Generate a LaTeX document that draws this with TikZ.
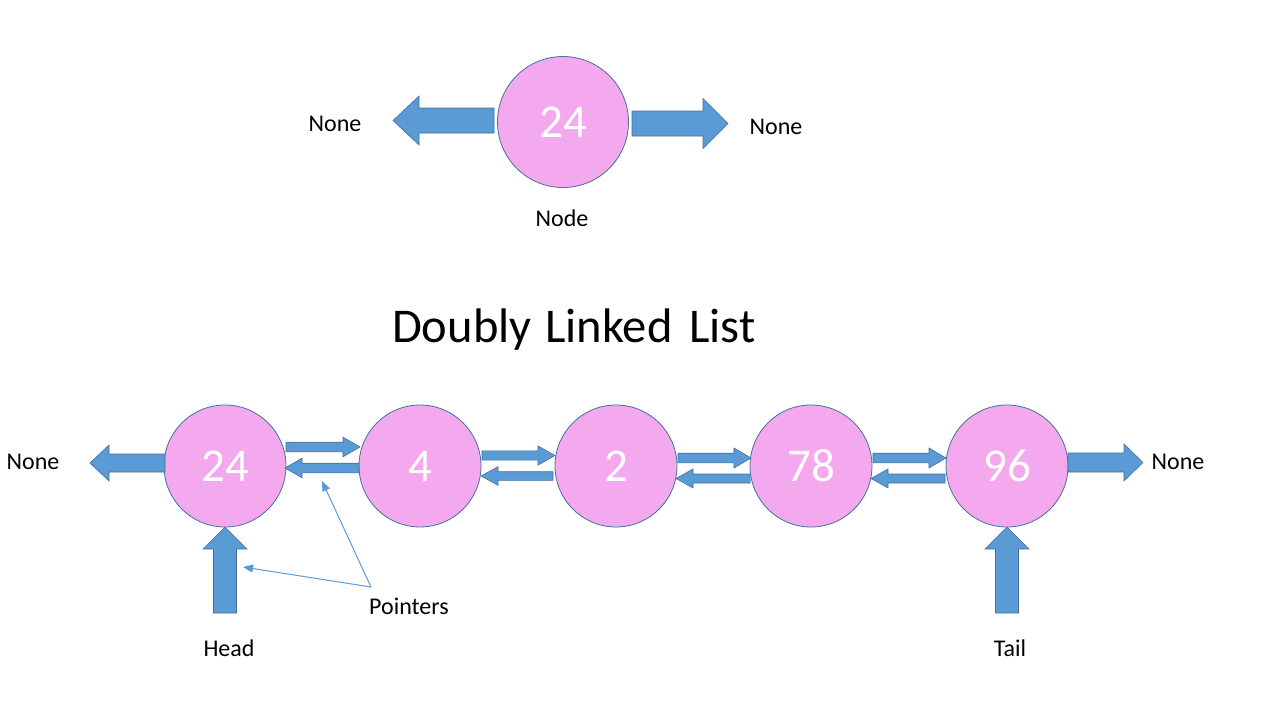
\documentclass[tikz,border=0pt]{standalone}
\usepackage{fontspec}
\setmainfont{Carlito}
\usetikzlibrary{calc,arrows.meta}
\definecolor{nodepink}{RGB}{244,168,238}
\definecolor{arrowfill}{RGB}{91,155,213}
\definecolor{arrowline}{RGB}{65,113,156}
\tikzset{
  circ/.style={circle, minimum size=122pt, inner sep=0pt, fill=nodepink, draw=arrowline, line width=0.8pt, text=white, font=\fontsize{47}{50}\selectfont},
  bigcirc/.style={circ, minimum size=131pt},
  lbl/.style={font=\fontsize{24}{28}\selectfont, text=black, inner sep=0pt},
  barrow/.style={fill=arrowfill, draw=arrowline, line width=0.6pt, line join=miter},
  thinptr/.style={draw=arrowfill, line width=1pt, -{Triangle[length=10pt,width=8pt]}},
}
% #1 from, #2 to, #3 shaft half width, #4 head half width, #5 head length
\newcommand\blockarrow[5]{%
  \coordinate (bahead) at ($(#2)!#5!(#1)$);
  \filldraw[barrow] ($(#1)!#3!90:(#2)$) -- ($(bahead)!#3!90:(#2)$) -- ($(bahead)!#4!90:(#2)$) -- (#2) -- ($(bahead)!#4!-90:(#2)$) -- ($(bahead)!#3!-90:(#2)$) -- ($(#1)!#3!-90:(#2)$) -- cycle;}
\begin{document}
\begin{tikzpicture}[x=1pt,y=-1pt]
\useasboundingbox[fill=white] (0,0) rectangle (1280,720);

% ---- single node ----
\node[bigcirc] (n0) at (563,122) {24};
\node[lbl] (nonel) at (335,124) {None};
\node[lbl] (noner) at (776,127) {None};
\node[lbl] (nodel) at (562,218) {Node};
\coordinate (t0ls) at (494,120.5);
\coordinate (t0le) at (393,120.5);
\coordinate (t0rs) at (632,123.5);
\coordinate (t0re) at (728,123.5);
\blockarrow{t0ls}{t0le}{12.5pt}{24.5pt}{26pt}
\blockarrow{t0rs}{t0re}{12.5pt}{25pt}{25pt}

% ---- title ----
\node[font=\fontsize{48.5}{52}\selectfont, inner sep=0pt, anchor=base] (title) at (574,342) {Doubly\hspace{3pt} Linked\hspace{6pt} List};

% ---- list nodes ----
\node[circ] (c1) at (225,466) {24};
\node[circ] (c2) at (420,466) {4};
\node[circ] (c3) at (616,466) {2};
\node[circ] (c4) at (811,466) {78};
\node[circ] (c5) at (1007,466) {96};

% None ends
\node[lbl] (nleft) at (33,462) {None};
\node[lbl] (nright) at (1178,462) {None};
\coordinate (lns) at (165,463);
\coordinate (lne) at (90,463);
\coordinate (rns) at (1068,462.5);
\coordinate (rne) at (1143,462.5);
\blockarrow{lns}{lne}{9pt}{18pt}{19pt}
\blockarrow{rns}{rne}{9.5pt}{18.5pt}{19pt}

% links 1-2
\coordinate (a12s) at (286,447); \coordinate (a12e) at (360,447);
\coordinate (b12s) at (359,468); \coordinate (b12e) at (285,468);
\blockarrow{a12s}{a12e}{4.8pt}{9.8pt}{17pt}
\blockarrow{b12s}{b12e}{4.8pt}{9.8pt}{17pt}
% links 2-3
\coordinate (a23s) at (482,455.5); \coordinate (a23e) at (555,455.5);
\coordinate (b23s) at (553,476); \coordinate (b23e) at (481,476);
\blockarrow{a23s}{a23e}{4.6pt}{9.6pt}{17pt}
\blockarrow{b23s}{b23e}{4.3pt}{9.3pt}{17pt}
% links 3-4
\coordinate (a34s) at (678,458); \coordinate (a34e) at (751,458);
\coordinate (b34s) at (750,478.5); \coordinate (b34e) at (676,478.5);
\blockarrow{a34s}{a34e}{4.8pt}{10pt}{17pt}
\blockarrow{b34s}{b34e}{4.5pt}{9.5pt}{17pt}
% links 4-5
\coordinate (a45s) at (873,458); \coordinate (a45e) at (946,458);
\coordinate (b45s) at (945,478.5); \coordinate (b45e) at (871,478.5);
\blockarrow{a45s}{a45e}{4.8pt}{10pt}{17pt}
\blockarrow{b45s}{b45e}{4.5pt}{9.5pt}{17pt}

% head / tail
\node[lbl] (head) at (229,648) {Head};
\node[lbl] (tail) at (1010,648) {Tail};
\coordinate (hs) at (225,613); \coordinate (he) at (225,527);
\coordinate (ts) at (1007,613); \coordinate (te) at (1007,527);
\blockarrow{hs}{he}{11.5pt}{22pt}{22pt}
\blockarrow{ts}{te}{11.5pt}{22pt}{22pt}

% pointers annotation
\node[lbl] (ptr) at (409,606) {Pointers};
\coordinate (pj) at (371,587);
\coordinate (pa) at (322,481);
\coordinate (pb) at (243,567);
\draw[thinptr] (pj) -- (pa);
\draw[thinptr] (pj) -- (pb);
\end{tikzpicture}
\end{document}
